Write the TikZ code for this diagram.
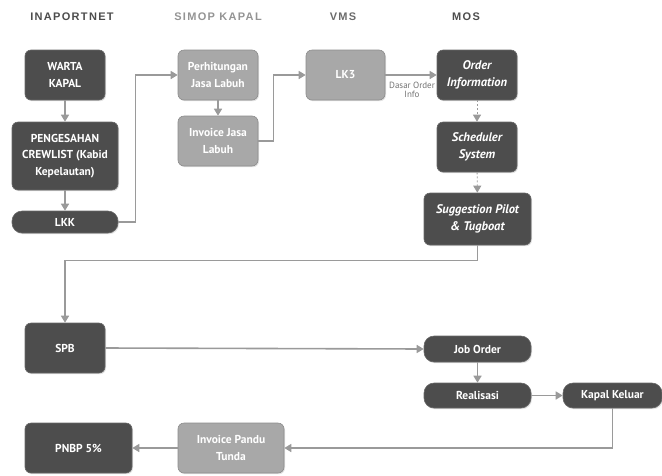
\documentclass[tikz,border=0pt]{standalone}
\usepackage{fontspec}
\setmainfont{PT Sans}[BoldFont={PT Sans Bold}, BoldItalicFont={PT Sans Bold Italic}]
\newfontfamily\hdrfont[LetterSpace=12]{Liberation Sans}
\usetikzlibrary{arrows.meta,shadows}
\definecolor{darkbox}{HTML}{4D4D4D}
\definecolor{lightbox}{HTML}{A8A8A8}
\definecolor{arrowgray}{HTML}{9A9A9A}
\tikzset{
  box/.style={rounded corners=6pt, align=center, text=white, font=\bfseries\fontsize{11.5}{16.5}\selectfont,
    inner sep=1pt, drop shadow={shadow xshift=1pt, shadow yshift=-1.2pt, fill=black!22}},
  darkb/.style={box, fill=darkbox, draw=darkbox!85!white, line width=0.6pt},
  lightb/.style={box, fill=lightbox, draw=black!45, line width=0.6pt},
  pill/.style={rounded corners=10pt},
  itx/.style={font=\bfseries\itshape\fontsize{12.5}{17}\selectfont},
  arr/.style={draw=arrowgray, line width=1.6pt, -{Triangle[width=8pt,length=7pt]}},
  dsh/.style={arr, line width=0.9pt, dash pattern=on 2pt off 2pt},
  hdr/.style={font=\hdrfont\bfseries\fontsize{11}{13}\selectfont}
}
\begin{document}
\begin{tikzpicture}[x=1pt,y=-1pt]
\useasboundingbox (0,0) rectangle (662,475);
% headers
\node[hdr, text=black!70] (h1) at (72,17) {INAPORTNET};
\node[hdr, text=black!42] (h2) at (218,17) {SIMOP KAPAL};
\node[hdr, text=black!58] (h3) at (343,17) {VMS};
\node[hdr, text=black!70] (h4) at (466,17) {MOS};
% INAPORTNET
\node[darkb, minimum width=80pt, minimum height=50pt] (warta) at (65,75) {WARTA\\KAPAL};
\node[darkb, minimum width=106pt, minimum height=68pt] (peng) at (65,156) {PENGESAHAN\\CREWLIST (Kabid\\Kepelautan)};
\node[darkb, pill, minimum width=106pt, minimum height=22pt] (lkk) at (65,222) {LKK};
% SIMOP
\node[lightb, minimum width=80pt, minimum height=50pt] (perh) at (218,75) {Perhitungan\\Jasa Labuh};
\node[lightb, minimum width=80pt, minimum height=50pt] (ijl) at (218,141) {Invoice Jasa\\Labuh};
% VMS
\node[lightb, minimum width=79pt, minimum height=50pt] (lk3) at (345.5,75) {LK3};
% MOS
\node[darkb, itx, minimum width=80pt, minimum height=50pt] (order) at (477,75) {Order\\Information};
\node[darkb, itx, minimum width=80pt, minimum height=50pt] (sched) at (477,147) {Scheduler\\System};
\node[darkb, itx, minimum width=107pt, minimum height=52pt] (sugg) at (477.5,219) {Suggestion Pilot\\\& Tugboat};
% lower
\node[darkb, minimum width=80pt, minimum height=50pt] (spb) at (65,348) {SPB};
\node[darkb, pill, minimum width=107pt, minimum height=26pt] (job) at (477.5,349) {Job Order};
\node[darkb, pill, minimum width=107pt, minimum height=25pt] (real) at (477.5,395.5) {Realisasi};
\node[darkb, pill, minimum width=99pt, minimum height=25pt] (kap) at (612.5,395.5) {Kapal Keluar};
\node[lightb, minimum width=106pt, minimum height=50pt] (ipt) at (231,448) {Invoice Pandu\\Tunda};
\node[darkb, minimum width=107pt, minimum height=50pt] (pnbp) at (78.5,448) {PNBP 5\%};
% connectors
\draw[arr] (warta) -- (peng);
\draw[arr] (peng) -- (lkk);
\draw[arr] (lkk.east) -- ++(17,0) |- (perh.west);
\draw[arr] (perh) -- (ijl);
\draw[arr] (ijl.east) -- ++(15,0) |- (lk3.west);
\draw[arr] (lk3.east) -- (order.west);
\node[font=\fontsize{9}{9}\selectfont, text=black!55, align=center] (lbl) at (412,90) {Dasar Order\\Info};
\draw[dsh] (order) -- (sched);
\draw[dsh] (sched) -- (sugg);
\draw[arr] (sugg.south) -- ++(0,15) -| (spb.north);
\draw[arr] (spb.east) -- (job.west);
\draw[arr] (job) -- (real);
\draw[arr] (real) -- (kap);
\draw[arr] (kap.south) |- (ipt.east);
\draw[arr] (ipt.west) -- (pnbp.east);
\end{tikzpicture}
\end{document}
